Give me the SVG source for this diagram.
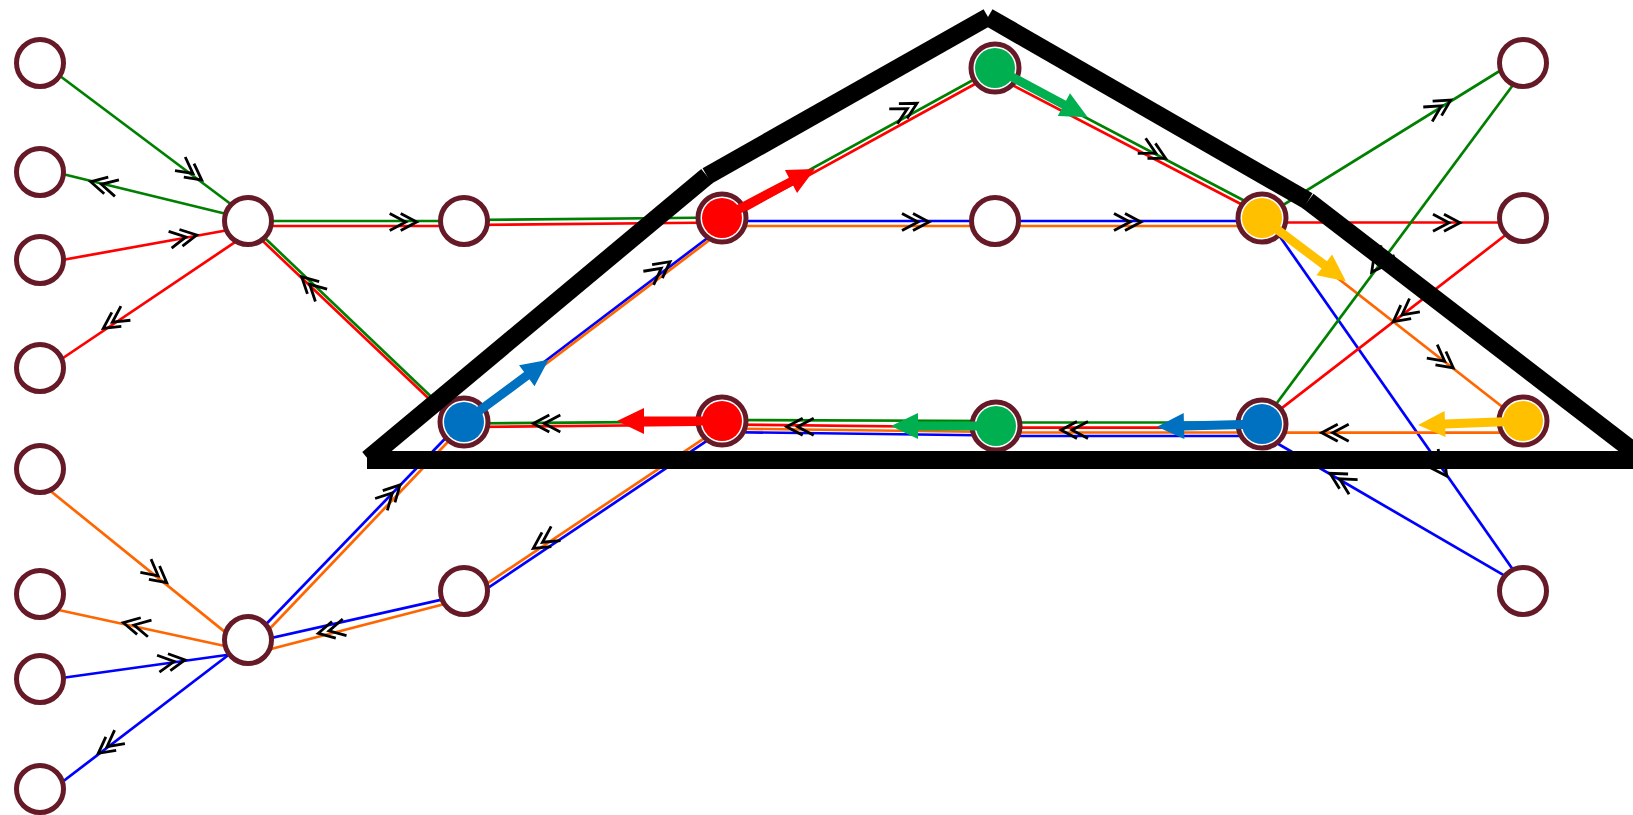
<svg xmlns="http://www.w3.org/2000/svg" width="1633" height="815" viewBox="0 0 1633 815">
<style>
.n{fill:#fff;stroke:#661a28;stroke-width:5}
.e line{fill:none;stroke-width:2.7}
.g{stroke:#008000}.r{stroke:#ff0000}.b{stroke:#0000ff}.o{stroke:#ff6600}
.ch{fill:none;stroke:#000;stroke-width:2.8}
.w{stroke:#000;stroke-width:18;stroke-linecap:butt}
</style>
<defs>
<path id="dc" class="ch" d="M-16,-8.5 L0,0 L-16,8.5 M-27,-8.5 L-11,0 L-27,8.5"/>
<path id="ta" d="M0,-4.5 H78 V-13 L105,0 L78,13 V4.5 H0 Z"/>
</defs>
<rect width="1633" height="815" fill="#fff"/>
<g id="connectors" class="e">
<line class="g" x1="40" y1="61" x2="248" y2="217"/>
<line class="g" x1="248" y1="219.3" x2="40" y2="168.5"/>
<line class="r" x1="40" y1="264" x2="248" y2="226.5"/>
<line class="r" x1="248" y1="233.4" x2="40" y2="373.5"/>
<line class="g" x1="248" y1="221" x2="464" y2="221"/>
<line class="r" x1="248" y1="226" x2="464" y2="226"/>
<line class="g" x1="248" y1="222" x2="464" y2="428"/>
<line class="r" x1="248" y1="227" x2="464" y2="432"/>
<line class="o" x1="40" y1="482.5" x2="248" y2="650.6"/>
<line class="o" x1="248" y1="651" x2="40" y2="606"/>
<line class="b" x1="40" y1="681" x2="248" y2="652"/>
<line class="b" x1="248" y1="640" x2="40" y2="799"/>
<line class="b" x1="248" y1="643" x2="464" y2="419"/>
<line class="o" x1="248" y1="651.5" x2="464" y2="425"/>
<line class="b" x1="464" y1="594.6" x2="248" y2="643.3"/>
<line class="o" x1="464" y1="599" x2="248" y2="655"/>
<line class="g" x1="464" y1="220" x2="722" y2="217.5"/>
<line class="r" x1="464" y1="225" x2="722" y2="222.5"/>
<line class="b" x1="464" y1="422.7" x2="722" y2="227"/>
<line class="o" x1="464" y1="426" x2="722" y2="230.5"/>
<line class="g" x1="722" y1="218" x2="995" y2="68"/>
<line class="r" x1="722" y1="223" x2="995" y2="73"/>
<line class="b" x1="722" y1="221" x2="1262" y2="221"/>
<line class="o" x1="722" y1="226" x2="1262" y2="226"/>
<line class="g" x1="995" y1="70" x2="1262" y2="210"/>
<line class="r" x1="995" y1="76" x2="1262" y2="215"/>
<line class="g" x1="464" y1="423.5" x2="722" y2="421.3"/>
<line class="r" x1="464" y1="427" x2="722" y2="424.5"/>
<line class="o" x1="722" y1="426.4" x2="464" y2="599"/>
<line class="b" x1="722" y1="430.7" x2="464" y2="604"/>
<line class="g" x1="722" y1="420" x2="996" y2="421"/>
<line class="r" x1="722" y1="424.5" x2="996" y2="427.5"/>
<line class="o" x1="722" y1="428.5" x2="996" y2="432"/>
<line class="b" x1="722" y1="432" x2="996" y2="435.5"/>
<line class="g" x1="996" y1="422.5" x2="1262" y2="422.5"/>
<line class="r" x1="996" y1="427.7" x2="1262" y2="427.7"/>
<line class="o" x1="996" y1="432.5" x2="1262" y2="432.5"/>
<line class="b" x1="996" y1="436" x2="1262" y2="436"/>
<line class="g" x1="1262" y1="218" x2="1523" y2="56.5"/>
<line class="r" x1="1262" y1="222.5" x2="1523" y2="222.5"/>
<line class="o" x1="1262" y1="219" x2="1523" y2="423"/>
<line class="b" x1="1262" y1="211" x2="1523" y2="584"/>
<line class="g" x1="1523" y1="71.5" x2="1262" y2="423"/>
<line class="r" x1="1523" y1="221.5" x2="1262" y2="423.5"/>
<line class="o" x1="1523" y1="432.7" x2="1262" y2="432.7"/>
<line class="b" x1="1523" y1="586.4" x2="1262" y2="434.5"/>
<use href="#dc" transform="translate(201.7,180) rotate(36.9)"/>
<use href="#dc" transform="translate(90.7,181.7) rotate(193.7)"/>
<use href="#dc" transform="translate(196.7,235) rotate(-10.2)"/>
<use href="#dc" transform="translate(103.3,328.3) rotate(146)"/>
<use href="#dc" transform="translate(416.7,222) rotate(0)"/>
<use href="#dc" transform="translate(301.7,276.7) rotate(-136.4)"/>
<use href="#dc" transform="translate(166.7,582.7) rotate(38.9)"/>
<use href="#dc" transform="translate(123.3,622.7) rotate(192.2)"/>
<use href="#dc" transform="translate(185,660) rotate(-7.9)"/>
<use href="#dc" transform="translate(98.3,753.3) rotate(142.6)"/>
<use href="#dc" transform="translate(400,485) rotate(-46)"/>
<use href="#dc" transform="translate(318.3,633.3) rotate(167.2)"/>
<use href="#dc" transform="translate(670,261.7) rotate(-37.2)"/>
<use href="#dc" transform="translate(533.3,423.5) rotate(180)"/>
<use href="#dc" transform="translate(533.3,548.3) rotate(146.6)"/>
<use href="#dc" transform="translate(917,103.3) rotate(-28.8)"/>
<use href="#dc" transform="translate(1165.6,158.3) rotate(27.7)"/>
<use href="#dc" transform="translate(929,222) rotate(0)"/>
<use href="#dc" transform="translate(1141,222) rotate(0)"/>
<use href="#dc" transform="translate(786.7,426.7) rotate(180)"/>
<use href="#dc" transform="translate(1061,430) rotate(180)"/>
<use href="#dc" transform="translate(1450.7,100) rotate(-31.8)"/>
<use href="#dc" transform="translate(1460,222.7) rotate(0)"/>
<use href="#dc" transform="translate(1371.7,272) rotate(126.6)"/>
<use href="#dc" transform="translate(1393.3,321.7) rotate(142.3)"/>
<use href="#dc" transform="translate(1453.3,368) rotate(38)"/>
<use href="#dc" transform="translate(1321.7,432.7) rotate(180)"/>
<use href="#dc" transform="translate(1446.7,476) rotate(55)"/>
<use href="#dc" transform="translate(1330,473.3) rotate(-149.8)"/>
</g>
<g id="n-L1"><circle class="n" cx="40" cy="63" r="23.5"/></g>
<g id="n-L2"><circle class="n" cx="40" cy="172" r="23.5"/></g>
<g id="n-L3"><circle class="n" cx="40" cy="260" r="23.5"/></g>
<g id="n-L4"><circle class="n" cx="40" cy="368" r="23.5"/></g>
<g id="n-L5"><circle class="n" cx="40" cy="469" r="23.5"/></g>
<g id="n-L6"><circle class="n" cx="40" cy="594" r="23.5"/></g>
<g id="n-L7"><circle class="n" cx="40" cy="679" r="23.5"/></g>
<g id="n-L8"><circle class="n" cx="40" cy="789" r="23.5"/></g>
<g id="n-A"><circle class="n" cx="248" cy="221" r="23.5"/></g>
<g id="n-C"><circle class="n" cx="248" cy="640" r="23.5"/></g>
<g id="n-B"><circle class="n" cx="464" cy="221" r="23.5"/></g>
<g id="n-D"><circle class="n" cx="464" cy="591" r="23.5"/></g>
<g id="n-I"><circle class="n" cx="995" cy="221" r="23.5"/></g>
<g id="n-R1"><circle class="n" cx="1523" cy="63" r="23.5"/></g>
<g id="n-R2"><circle class="n" cx="1523" cy="218" r="23.5"/></g>
<g id="n-R3"><circle class="n" cx="1523" cy="591" r="23.5"/></g>
<g id="n-E"><circle class="n" cx="464" cy="422" r="24"/><circle cx="464" cy="422" r="20" fill="#0070c0"/></g>
<g id="n-F"><circle class="n" cx="722" cy="218" r="24"/><circle cx="722" cy="218" r="20" fill="#ff0000"/></g>
<g id="n-G"><circle class="n" cx="722" cy="421" r="24"/><circle cx="722" cy="421" r="20" fill="#ff0000"/></g>
<g id="n-H"><circle class="n" cx="995" cy="68" r="24"/><circle cx="995" cy="68" r="20" fill="#00b050"/></g>
<g id="n-M"><circle class="n" cx="996" cy="426" r="24"/><circle cx="996" cy="426" r="20" fill="#00b050"/></g>
<g id="n-J"><circle class="n" cx="1262" cy="218" r="24"/><circle cx="1262" cy="218" r="20" fill="#ffc000"/></g>
<g id="n-L"><circle class="n" cx="1262" cy="424" r="24"/><circle cx="1262" cy="424" r="20" fill="#0070c0"/></g>
<g id="n-K"><circle class="n" cx="1523" cy="421" r="24"/><circle cx="1523" cy="421" r="20" fill="#ffc000"/></g>
<g id="thick-arrows">
<use href="#ta" transform="translate(464,422) rotate(-36.4)" fill="#0070c0"/>
<use href="#ta" transform="translate(722,218) rotate(-27.8)" fill="#ff0000"/>
<use href="#ta" transform="translate(995,68) rotate(28)" fill="#00b050"/>
<use href="#ta" transform="translate(1262,218) rotate(37)" fill="#ffc000"/>
<use href="#ta" transform="translate(1523,421) rotate(177.8)" fill="#ffc000"/>
<use href="#ta" transform="translate(1262,424) rotate(178.5)" fill="#0070c0"/>
<use href="#ta" transform="translate(996,426) rotate(180)" fill="#00b050"/>
<use href="#ta" transform="translate(722,421) rotate(180)" fill="#ff0000"/>
</g>
<g id="boundary">
<line class="w" x1="368" y1="459" x2="707" y2="176"/>
<line class="w" x1="707" y1="176" x2="988" y2="17"/>
<line class="w" x1="988" y1="17" x2="1308" y2="201"/>
<line class="w" x1="1308" y1="201" x2="1650" y2="464"/>
<line class="w" x1="367" y1="460" x2="1640" y2="460"/>
</g>
</svg>
